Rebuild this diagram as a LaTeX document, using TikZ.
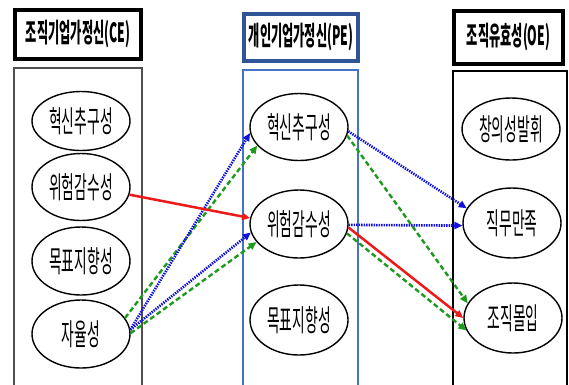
\documentclass[tikz,border=0pt]{standalone}
\usepackage{fontspec}
\newfontfamily\kr[FakeStretch=0.46]{Noto Sans CJK KR}
\newfontfamily\krh[FakeStretch=0.46]{Noto Sans CJK KR}
\usetikzlibrary{arrows.meta,shapes.geometric}
\definecolor{hblue}{HTML}{2F5597}
\definecolor{cblue}{HTML}{4472C4}
\definecolor{ablue}{HTML}{1010E0}
\definecolor{agreen}{HTML}{1E9A1E}
\definecolor{ared}{HTML}{EE1A1A}
\definecolor{cgray}{HTML}{505050}
\begin{document}
\begin{tikzpicture}[x=1pt,y=-1pt,
  oval/.style={ellipse, draw, line width=1.4pt, minimum width=98pt, minimum height=67pt, inner sep=0pt,
    font=\kr\fontsize{30}{30}\selectfont},
  headbox/.style={draw, line width=4pt, inner sep=0pt, font=\krh\bfseries\fontsize{26.5}{26.5}\selectfont},
  tip/.style={-{Triangle[length=8pt,width=7pt]}},
  redarr/.style={tip, draw=ared, fill=ared, line width=2.5pt},
  bluearr/.style={tip, draw=ablue, line width=2.6pt, dash pattern=on 1.4pt off 1.1pt},
  greenarr/.style={tip, draw=agreen, line width=2.4pt, dash pattern=on 5pt off 3pt}]
\useasboundingbox (0,0) rectangle (569,384);
\clip (0,0) rectangle (569,384);
\fill[white] (0,0) rectangle (569,384);

% headers
\node[headbox, minimum width=126pt, minimum height=49pt] (h1) at (78,34.5) {조직기업가정신(CE)};
\node[headbox, draw=hblue, line width=3.4pt, minimum width=114pt, minimum height=47pt] (h2) at (301,37.5) {개인기업가정신(PE)};
\node[headbox, minimum width=109pt, minimum height=53pt] (h3) at (508.5,37.5) {조직유효성(OE)};

% column boxes
\draw[cgray, line width=2pt] (14,68) rectangle (142,400);
\draw[cblue, line width=1.5pt] (243,70) rectangle (358,400);
\draw[black, line width=1.2pt] (453,71) rectangle (567,400);

% left column
\node[oval, minimum height=59pt] (ce1) at (81,121) {혁신추구성};
\node[oval] (ce2) at (81,187) {위험감수성};
\node[oval, minimum height=68pt] (ce3) at (81,261) {목표지향성};
\node[oval, minimum height=68pt] (ce4) at (81,334) {자율성};

% middle column
\node[oval] (pe1) at (299,127) {혁신추구성};
\node[oval, minimum height=68pt] (pe2) at (299,224) {위험감수성};
\node[oval, minimum height=70pt] (pe3) at (299,320) {목표지향성};

% right column
\node[oval, minimum height=62pt] (oe1) at (511,129) {창의성발휘};
\node[oval, minimum height=70pt] (oe2) at (512,223) {직무만족};
\node[oval, minimum height=70pt] (oe3) at (513,318) {조직몰입};

% connectors
\draw[greenarr] (ce4.20) -- (pe1.204);
\draw[bluearr] (ce4.5) -- (pe1.187);
\draw[greenarr] (ce4.1) -- (pe2.203);
\draw[bluearr] (ce4.5) -- (pe2.190);
\draw[redarr] (ce2.351) -- (pe2.173);

\draw[bluearr] (pe1.355) -- (oe2.162);
\draw[greenarr] (pe1.350) -- (oe3.162);
\draw[bluearr] (pe2.359) -- (oe2.183);
\draw[greenarr] (pe2.349) -- (oe3.195);
\draw[redarr] (pe2.356) -- (oe3.180);
\end{tikzpicture}
\end{document}
